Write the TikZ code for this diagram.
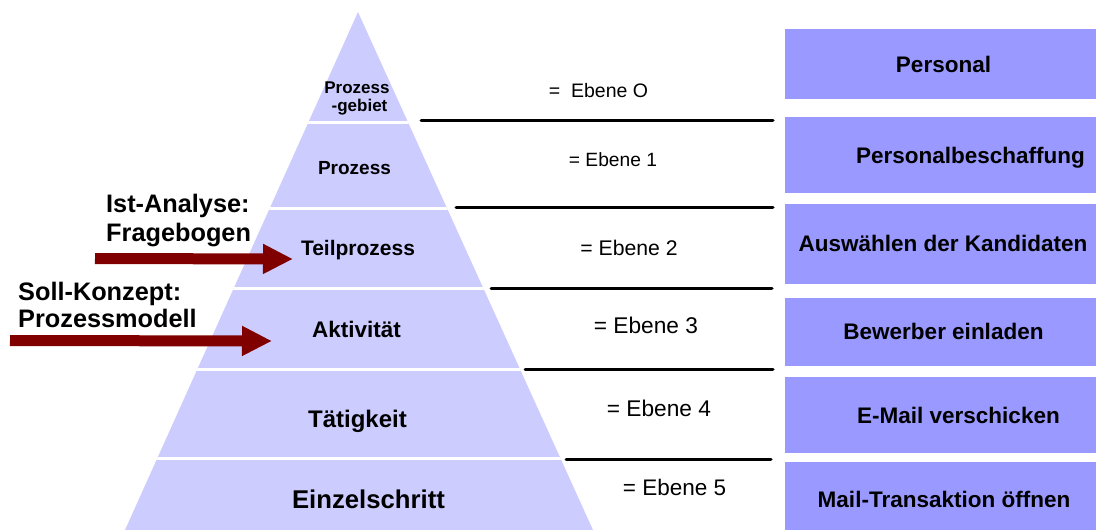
\documentclass[tikz,border=0pt]{standalone}
\usepackage{fontspec}
\setmainfont{Liberation Sans}
\usetikzlibrary{arrows.meta}
\definecolor{pyrfill}{HTML}{CCCCFF}
\definecolor{boxfill}{HTML}{9999FF}
\definecolor{arrowred}{HTML}{800000}
\newcommand\fsz[1]{\fontsize{#1pt}{#1pt}\selectfont}
\begin{document}
\begin{tikzpicture}[x=1pt,y=-1pt,
  lvl/.style={anchor=base, inner sep=0pt, font=\fsz{#1}\bfseries},
  side/.style={anchor=base west, inner sep=0pt, font=\fsz{#1}\bfseries},
  ebene/.style={anchor=base, inner sep=0pt, font=\fsz{#1}},
  boxtext/.style={anchor=base, inner sep=0pt, font=\fsz{22.5}\bfseries},
  catbox/.style={fill=boxfill, draw=none, inner sep=0pt, anchor=north west, minimum width=311pt},
  sep/.style={white, line width=3pt},
  level line/.style={black, line width=3pt, line cap=round},
  bigarrow/.style={arrowred, line width=11pt, -{Triangle[length=30pt,width=28pt]}}
]
\useasboundingbox (0,0) rectangle (1096,530);

% pyramid body
\fill[pyrfill] (358,12) -- (593,530) -- (125,530) -- cycle;
\begin{scope}
  \clip (358,12) -- (593,530) -- (125,530) -- cycle;
  \foreach \yy in {122,208,288,369,458}
    \draw[sep] (100,\yy) -- (620,\yy);
\end{scope}

% level separator lines on the right
\coordinate (l1a) at (421,120); \coordinate (l1b) at (773,120);
\coordinate (l2a) at (456,207); \coordinate (l2b) at (773,207);
\coordinate (l3a) at (491,288); \coordinate (l3b) at (772,288);
\coordinate (l4a) at (525,369); \coordinate (l4b) at (773,369);
\coordinate (l5a) at (566,459); \coordinate (l5b) at (771,459);
\draw[level line] (l1a) -- (l1b);
\draw[level line] (l2a) -- (l2b);
\draw[level line] (l3a) -- (l3b);
\draw[level line] (l4a) -- (l4b);
\draw[level line] (l5a) -- (l5b);

% category boxes
\node[catbox, minimum height=70pt] (b0) at (785,29) {};
\node[catbox, minimum height=76pt] (b1) at (785,117) {};
\node[catbox, minimum height=80pt] (b2) at (785,204) {};
\node[catbox, minimum height=68pt] (b3) at (785,298) {};
\node[catbox, minimum height=76pt] (b4) at (785,377) {};
\node[catbox, minimum height=68pt] (b5) at (785,462) {};

\node[boxtext] (t0) at (943.5,72) {Personal};
\node[boxtext] (t1) at (970.5,163) {Personalbeschaffung};
\node[boxtext] (t2) at (943,251) {Auswählen der Kandidaten};
\node[boxtext] (t3) at (943.5,339) {Bewerber einladen};
\node[boxtext] (t4) at (958.5,423) {E-Mail verschicken};
\node[boxtext] (t5) at (944,507) {Mail-Transaktion öffnen};

% arrows pointing into the pyramid
\coordinate (a1s) at (95,258.5); \coordinate (a1e) at (293,259);
\coordinate (a2s) at (10,340.5); \coordinate (a2e) at (272,341);
\draw[bigarrow] (a1s) -- (a1e);
\draw[bigarrow] (a2s) -- (a2e);

% pyramid labels
\node[lvl=17] (p0a) at (357,93) {Prozess};
\node[lvl=17] (p0b) at (359.5,111) {-gebiet};
\node[lvl=19] (p1) at (354.5,174) {Prozess};
\node[lvl=21] (p2) at (358,255) {Teilprozess};
\node[lvl=22.5] (p3) at (356.5,337) {Aktivität};
\node[lvl=24] (p4) at (357.5,427) {Tätigkeit};
\node[lvl=25.7] (p5) at (368.5,508) {Einzelschritt};

% side annotations
\node[side=25.3] (ist1) at (106,212) {Ist-Analyse:};
\node[side=25.3] (ist2) at (106,241) {Fragebogen};
\node[side=25.3] (soll1) at (18,300) {Soll-Konzept:};
\node[side=25.3] (soll2) at (18,327) {Prozessmodell};

% level numbers
\node[ebene=19.5] (e0) at (598.5,97) {=\ \ Ebene O};
\node[ebene=19.2] (e1) at (613,166) {= Ebene 1};
\node[ebene=21.2] (e2) at (629,255.5) {= Ebene 2};
\node[ebene=22.7] (e3) at (646,333) {= Ebene 3};
\node[ebene=22.7] (e4) at (659,416) {= Ebene 4};
\node[ebene=22.5] (e5) at (674.5,495) {= Ebene 5};
\end{tikzpicture}
\end{document}
